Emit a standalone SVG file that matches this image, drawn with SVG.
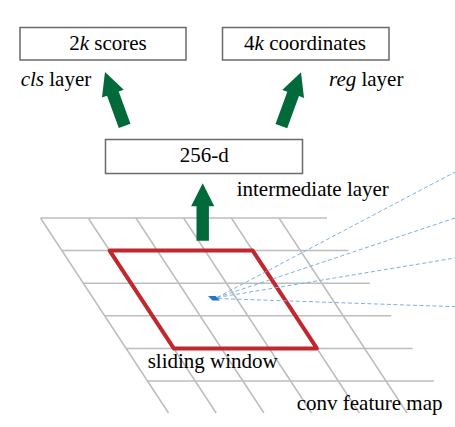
<svg xmlns="http://www.w3.org/2000/svg" width="455" height="427" viewBox="0 0 455 427">
<style>
  .grid { stroke: #bdbdbd; stroke-width: 1.5; fill: none; }
  .box { fill: #ffffff; stroke: #6a6a6a; stroke-width: 1.5; }
  .lbl { font-family: "Liberation Serif", "Times New Roman", serif; font-size: 21px; fill: #000; }
  .it { font-style: italic; }
  .arrow { fill: #006a3a; }
  .ray { stroke: #7fb0dc; stroke-width: 1; stroke-dasharray: 4 2.5; fill: none; }
  .win { fill: none; stroke: #c1272d; stroke-width: 4; stroke-linejoin: round; }
</style>
<defs>
  <polygon id="garrow" points="0,0 11.6,23 6.2,23 6.2,57.4 -6.2,57.4 -6.2,23 -11.6,23"/>
</defs>
<rect width="455" height="427" fill="#ffffff"/>

<g id="feature-map">
  <g class="grid">
    <line x1="40.5" y1="218" x2="327" y2="218"/>
    <line x1="61.9" y1="250.6" x2="348.4" y2="250.6"/>
    <line x1="83.3" y1="283.2" x2="369.8" y2="283.2"/>
    <line x1="104.7" y1="315.8" x2="391.2" y2="315.8"/>
    <line x1="126.1" y1="348.4" x2="412.6" y2="348.4"/>
    <line x1="147.5" y1="381" x2="434" y2="381"/>
    <line x1="40.5" y1="218" x2="168.5" y2="413"/>
    <line x1="88.2" y1="218" x2="216.2" y2="413"/>
    <line x1="135.9" y1="218" x2="263.9" y2="413"/>
    <line x1="183.6" y1="218" x2="311.6" y2="413"/>
    <line x1="231.3" y1="218" x2="359.3" y2="413"/>
    <line x1="279" y1="218" x2="407" y2="413"/>
  </g>
  <text class="lbl" x="296.7" y="410">conv feature map</text>
</g>

<g id="sliding-window">
  <polygon class="win" points="109.6,250.6 252.7,250.6 316.9,348.4 173.8,348.4"/>
  <text class="lbl" x="147.7" y="368.3">sliding window</text>
</g>

<g id="connectors">
  <g class="rays">
    <line class="ray" x1="217" y1="297.5" x2="455" y2="172"/>
    <line class="ray" x1="217" y1="297.5" x2="455" y2="218"/>
    <line class="ray" x1="217" y1="297.5" x2="455" y2="258"/>
    <line class="ray" x1="218" y1="298.5" x2="455" y2="306.7"/>
  </g>
  <use href="#garrow" class="arrow" transform="translate(202.7,183.3)"/>
  <use href="#garrow" class="arrow" transform="translate(105,72) rotate(-20)"/>
  <use href="#garrow" class="arrow" transform="translate(301,72.3) rotate(20)"/>
</g>

<g id="center-point">
  <polygon points="208,296 215.5,296 220,300.5 212.5,300.5" fill="#1f74c4"/>
</g>

<g id="intermediate">
  <rect class="box" x="105.5" y="139.5" width="197" height="34"/>
  <text class="lbl" x="204.3" y="162.3" text-anchor="middle">256-d</text>
  <text class="lbl" x="236.7" y="195.7">intermediate layer</text>
</g>

<g id="cls">
  <rect class="box" x="20" y="27.5" width="166" height="32.5"/>
  <text class="lbl" x="108" y="49.5" text-anchor="middle">2<tspan class="it">k</tspan> scores</text>
  <text class="lbl" x="20.7" y="86"><tspan class="it">cls</tspan> layer</text>
</g>

<g id="reg">
  <rect class="box" x="222.5" y="27.5" width="166.5" height="32.5"/>
  <text class="lbl" x="305" y="49.5" text-anchor="middle">4<tspan class="it">k</tspan> coordinates</text>
  <text class="lbl" x="329" y="86"><tspan class="it">reg</tspan> layer</text>
</g>
</svg>
